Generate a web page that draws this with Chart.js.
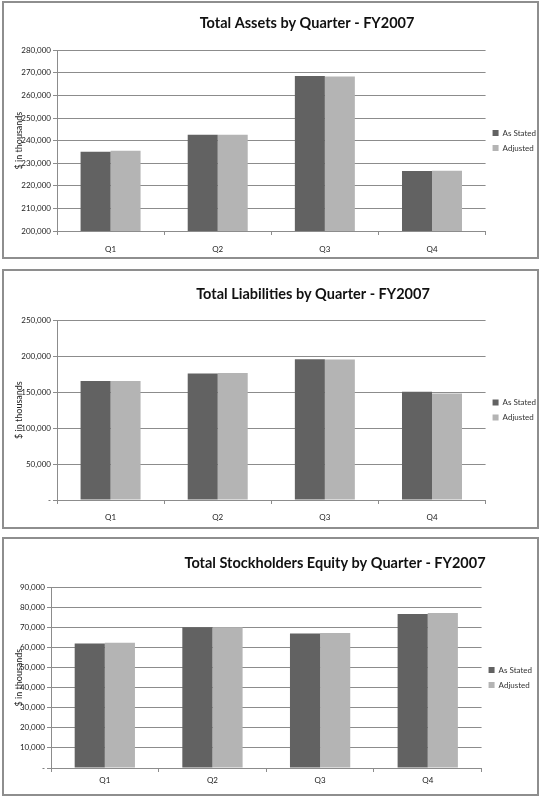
<!DOCTYPE html>
<html>
<head>
<meta charset="utf-8">
<script src="https://cdn.jsdelivr.net/npm/chart.js@4"></script>
<style>
  body { margin: 0; background: #fff; }
  .box { position: absolute; left: 2px; width: 537px; border: 2px solid #8e8e8e; box-sizing: border-box; background: #fff; }
  .box canvas { display: block; }
</style>
</head>
<body>
<div class="box" style="top:1px;height:258px"><canvas id="assets" width="533" height="254"></canvas></div>
<div class="box" style="top:269px;height:260px"><canvas id="liabilities" width="533" height="256"></canvas></div>
<div class="box" style="top:537px;height:259px"><canvas id="equity" width="533" height="255"></canvas></div>
<script>
// datos ($ in thousands)
const quarters = ['Q1', 'Q2', 'Q3', 'Q4'];
const seriesNames = ['As Stated', 'Adjusted'];

const assetsStated = [235100, 242600, 268600, 226500];
const assetsAdjusted = [235500, 242600, 268400, 226700];

const liabStated = [165600, 175800, 195600, 150400];
const liabAdjusted = [165600, 176700, 195500, 148100];

const equityStated = [62000, 70100, 67000, 76600];
const equityAdjusted = [62400, 70100, 67200, 77200];

const chartTitles = ['Total Assets by Quarter - FY2007', 'Total Liabilities by Quarter - FY2007', 'Total Stockholders Equity by Quarter - FY2007'];
const yTitle = '$ in thousands';
const yMin = [200000, 0, 0];
const yMax = [280000, 250000, 90000];
const yStep = [10000, 50000, 10000];

const FONT = 'Lato, "Noto Sans", sans-serif';
const gridColor = '#8c8c8c';

// mueve el titulo a una x fija (excel no lo centra)
const titleShift = {
    id: 'titleShift',
    afterLayout(chart, args, opts) {
        const tb = chart.titleBlock;
        if (tb && opts.centerX !== undefined) {
            const dx = opts.centerX - (tb.left + tb.right) / 2;
            tb.left += dx;
            tb.right += dx;
        }
    }
};

function makeChart(id, idx, stated, adjusted, lay) {
    const config = {
        type: 'bar',
        data: {
            labels: quarters,
            datasets: [{
                label: seriesNames[0],
                data: stated,
                backgroundColor: '#626262',
                borderWidth: 0,
            }, {
                label: seriesNames[1],
                data: adjusted,
                backgroundColor: '#b4b4b4',
                borderWidth: 0,
            }]
        },
        options: {
            responsive: false,
            animation: false,
            categoryPercentage: 0.56,
            barPercentage: 1.0,
            layout: {
                padding: { top: 0, right: lay.padRight, bottom: lay.padBottom, left: lay.padLeft }
            },
            scales: {
                x: {
                    afterFit(scale) { scale.height = 24; },
                    grid: { display: true, drawOnChartArea: false, drawTicks: true, tickLength: 4, color: gridColor },
                    border: { color: gridColor },
                    ticks: { color: '#222', font: { family: FONT, size: 8 }, padding: lay.xPad }
                },
                y: {
                    min: yMin[idx],
                    max: yMax[idx],
                    afterFit(scale) { scale.width = lay.yWidth; },
                    grid: { color: gridColor, tickLength: 4 },
                    border: { color: gridColor },
                    ticks: {
                        stepSize: yStep[idx],
                        color: '#222',
                        padding: 2,
                        font: { family: FONT, size: 8 },
                        callback: v => v === 0 ? '-' : v.toLocaleString('en-US')
                    },
                    title: {
                        display: true,
                        text: yTitle,
                        color: '#222',
                        font: { family: FONT, size: 9 },
                        padding: { top: 4, bottom: 0 }
                    }
                }
            },
            plugins: {
                title: {
                    display: true,
                    text: chartTitles[idx],
                    color: '#111',
                    font: { family: FONT, size: 14.5, weight: 'bold' },
                    padding: { top: lay.titleTop, bottom: lay.titleBottom }
                },
                titleShift: { centerX: lay.titleX },
                legend: {
                    position: 'right',
                    fullSize: false,
                    labels: {
                        boxWidth: 6,
                        boxHeight: 6,
                        padding: 7,
                        color: '#333',
                        font: { family: FONT, size: 8 }
                    }
                },
                tooltip: { enabled: false }
            }
        },
        plugins: [titleShift]
    };
    return new Chart(document.getElementById(id), config);
}

makeChart('assets', 0, assetsStated, assetsAdjusted,
    { padLeft: 6, yWidth: 47, padRight: -9, padBottom: 2, xPad: 10, titleTop: 12, titleBottom: 17.8, titleX: 303 });
makeChart('liabilities', 1, liabStated, liabAdjusted,
    { padLeft: 6, yWidth: 47, padRight: -9, padBottom: 3, xPad: 9, titleTop: 15, titleBottom: 16.8, titleX: 309 });
makeChart('equity', 2, equityStated, equityAdjusted,
    { padLeft: 6, yWidth: 41, padRight: -5, padBottom: 2, xPad: 4, titleTop: 16, titleBottom: 14.8, titleX: 331 });
</script>
</body>
</html>
